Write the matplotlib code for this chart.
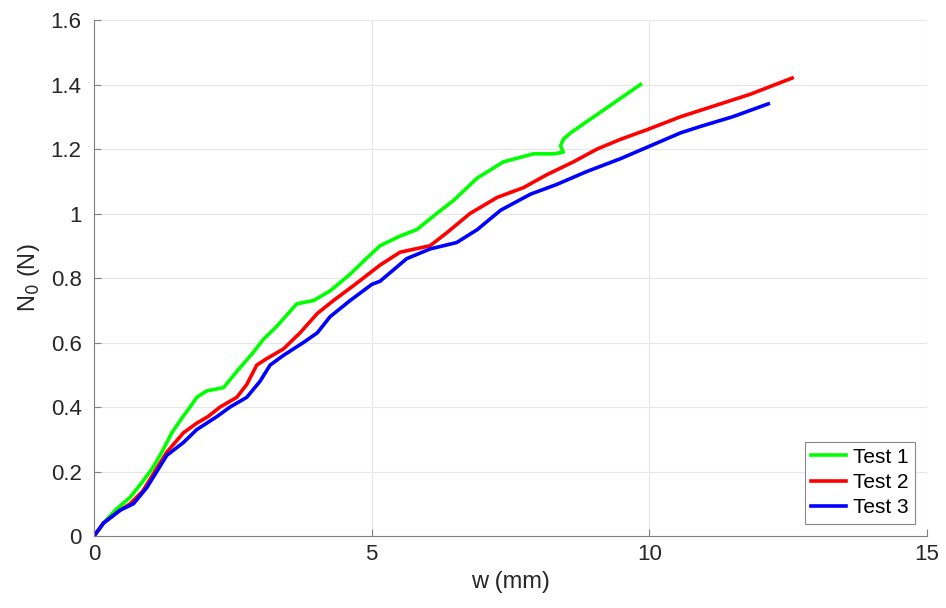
import numpy as np
import matplotlib
matplotlib.use("Agg")
import matplotlib.pyplot as plt

plt.rcParams['font.family'] = ['Liberation Sans', 'DejaVu Sans']

# Test 1 (green)
w1 = [0, 0.17, 0.38, 0.65, 0.88, 1.05, 1.22, 1.4, 1.6, 1.73, 1.85, 2.03, 2.33, 2.57,
      2.87, 3.05, 3.29, 3.65, 3.95, 4.25, 4.6, 4.9, 5.15, 5.51, 5.81, 6.17, 6.47,
      6.9, 7.37, 7.91, 8.27, 8.45, 8.40, 8.45, 8.58, 9.0, 9.42, 9.84]
n1 = [0, 0.04, 0.08, 0.12, 0.17, 0.21, 0.26, 0.32, 0.37, 0.40, 0.43, 0.45, 0.46, 0.51,
      0.57, 0.61, 0.65, 0.72, 0.73, 0.76, 0.81, 0.86, 0.90, 0.93, 0.95, 1.0, 1.04,
      1.11, 1.16, 1.185, 1.185, 1.19, 1.21, 1.23, 1.25, 1.30, 1.35, 1.40]

# Test 2 (red)
w2 = [0, 0.17, 0.47, 0.65, 0.88, 1.13, 1.31, 1.61, 1.85, 2.05, 2.27, 2.57, 2.75,
      2.93, 3.11, 3.41, 3.71, 4.02, 4.31, 4.7, 5.15, 5.51, 6.05, 6.35, 6.77, 7.26,
      7.73, 8.15, 8.63, 9.06, 9.48, 9.96, 10.56, 10.92, 11.82, 12.57]
n2 = [0, 0.04, 0.08, 0.10, 0.14, 0.21, 0.26, 0.32, 0.35, 0.37, 0.40, 0.43, 0.47,
      0.53, 0.55, 0.58, 0.63, 0.69, 0.73, 0.78, 0.84, 0.88, 0.90, 0.94, 1.0, 1.05,
      1.08, 1.12, 1.16, 1.20, 1.23, 1.26, 1.30, 1.32, 1.37, 1.42]

# Test 3 (blue)
w3 = [0, 0.17, 0.47, 0.71, 0.95, 1.13, 1.31, 1.61, 1.85, 2.03, 2.21, 2.45, 2.75,
      2.99, 3.17, 3.41, 3.77, 4.02, 4.25, 4.61, 5.0, 5.15, 5.63, 6.05, 6.53, 6.9,
      7.32, 7.86, 8.33, 8.87, 9.48, 10.02, 10.56, 10.92, 11.5, 12.14]
n3 = [0, 0.04, 0.08, 0.10, 0.15, 0.20, 0.25, 0.29, 0.33, 0.35, 0.37, 0.40, 0.43,
      0.48, 0.53, 0.56, 0.60, 0.63, 0.68, 0.73, 0.78, 0.79, 0.86, 0.89, 0.91, 0.95,
      1.01, 1.06, 1.09, 1.13, 1.17, 1.21, 1.25, 1.27, 1.30, 1.34]

fig = plt.figure(figsize=(9.46, 6.08), dpi=100)
ax = fig.add_axes([0.0994, 0.1184, 0.8806, 0.8487])

ax.plot(w1, n1, color='#00ff00', lw=2.6, label='Test 1')
ax.plot(w2, n2, color='#ff0000', lw=2.6, label='Test 2')
ax.plot(w3, n3, color='#0000ff', lw=2.6, label='Test 3')

ax.set_xlim(0, 15)
ax.set_ylim(0, 1.6)
ax.set_xticks([0, 5, 10, 15])
ax.set_xticklabels(['0', '5', '10', '15'])
ax.set_yticks([0, 0.2, 0.4, 0.6, 0.8, 1.0, 1.2, 1.4, 1.6])
ax.set_yticklabels(['0', '0.2', '0.4', '0.6', '0.8', '1', '1.2', '1.4', '1.6'])
ax.grid(True, color='#e6e6e6', lw=0.8)
ax.set_axisbelow(True)
for s in ['top', 'right']:
    ax.spines[s].set_visible(False)
for s in ['left', 'bottom']:
    ax.spines[s].set_color('#808080')
ax.tick_params(direction='in', length=5, colors='#808080', labelcolor='#262626',
               labelsize=16)
ax.tick_params(axis='y', pad=9)
ax.tick_params(axis='x', pad=6)
ax.set_xlabel('w (mm)', fontsize=17, color='#262626', labelpad=4)
ax.set_ylabel('N$_0$ (N)', fontsize=17, color='#262626', labelpad=6)

leg = ax.legend(loc='lower right', fontsize=15, fancybox=False, framealpha=1,
                edgecolor='#888888', handlelength=1.7, handletextpad=0.3,
                borderpad=0.3, labelspacing=0.3, borderaxespad=0.6)
leg.get_frame().set_linewidth(0.8)

fig.savefig('out.png', dpi=100)
